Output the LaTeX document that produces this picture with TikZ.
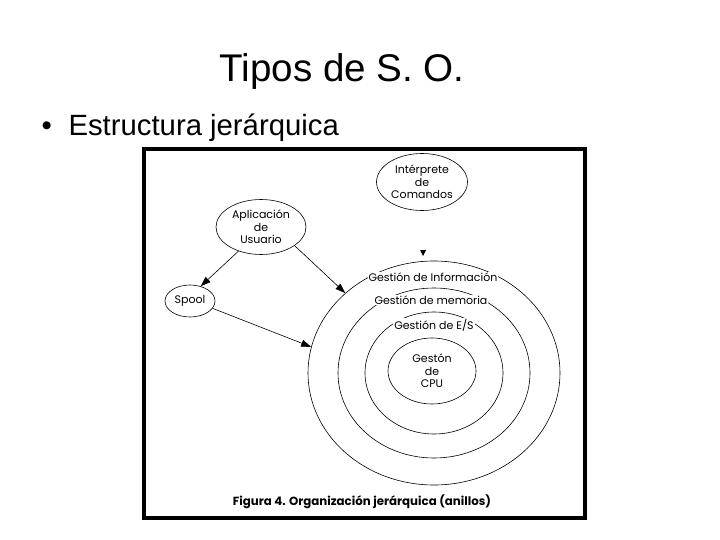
\documentclass[tikz,border=0pt]{standalone}
\usepackage{fontspec}
\setmainfont{Liberation Sans}
\newfontfamily\figfont{Poppins}
\usetikzlibrary{shapes.geometric, arrows.meta}

\begin{document}
\begin{tikzpicture}[
  x=1pt, y=-1pt,
  nodo/.style={draw, ellipse, line width=0.6pt, inner sep=0pt, align=center,
    font=\figfont\fontsize{11}{12.5}\selectfont},
  anillo/.style={draw, ellipse, line width=0.6pt, inner sep=0pt},
  etiq/.style={fill=white, inner sep=1pt, font=\figfont\fontsize{11}{12.5}\selectfont},
  flecha/.style={-{Triangle[length=10pt,width=7pt]}, line width=0.6pt},
]
  \useasboundingbox (0,0) rectangle (720,540);

  % titulo y viñeta
  \node[anchor=base, font=\fontsize{38.6}{46}\selectfont] (titulo) at (342,82) {Tipos de S. O.};
  \node[anchor=base west, font=\fontsize{29.3}{36}\selectfont] (vineta) at (38,136) {•};
  \node[anchor=base west, font=\fontsize{29.3}{36}\selectfont] (estr) at (65,136) {Estructura jerárquica};

  % marco de la figura
  \draw[line width=4pt] (144,149) rectangle (585,518);

  % anillos concentricos
  \coordinate (O) at (434,373);
  \node[anillo, minimum width=252pt, minimum height=224pt] (info) at (O) {};
  \node[anillo, minimum width=192pt, minimum height=170pt] (mem) at (O) {};
  \node[anillo, minimum width=138pt, minimum height=122pt] (es) at (O) {};
  \node[anillo, minimum width=88pt, minimum height=66pt, align=center,
    font=\figfont\fontsize{11}{12.5}\selectfont] (cpu) at (432,371) {Gestón\\de\\CPU};

  % nombres de los anillos
  \node[etiq] (linfo) at (433,277) {Gestión de Información};
  \node[etiq] (lmem) at (431,300) {Gestión de memoria};
  \node[etiq] (les) at (434,325) {Gestión de E/S};

  % procesos
  \node[nodo, minimum width=91pt, minimum height=57pt] (interp) at (422,182) {Intérprete\\de\\Comandos};
  \node[nodo, minimum width=90pt, minimum height=55pt] (apl) at (261,227) {Aplicación\\de\\Usuario};
  \node[nodo, minimum width=50pt, minimum height=32pt] (spool) at (190,301) {Spool};

  % flechas
  \draw[flecha] (apl.227) -- (spool.54);
  \draw[flecha] (apl.331) -- (info.138);
  \draw[flecha] (spool.342) -- (info.168);
  \fill (420,250) -- (426,250) -- (423,256) -- cycle;

  % pie
  \node[font=\figfont\bfseries\fontsize{11.8}{13}\selectfont] (pie) at (362,502)
    {Figura 4. Organización jerárquica (anillos)};
\end{tikzpicture}
\end{document}
